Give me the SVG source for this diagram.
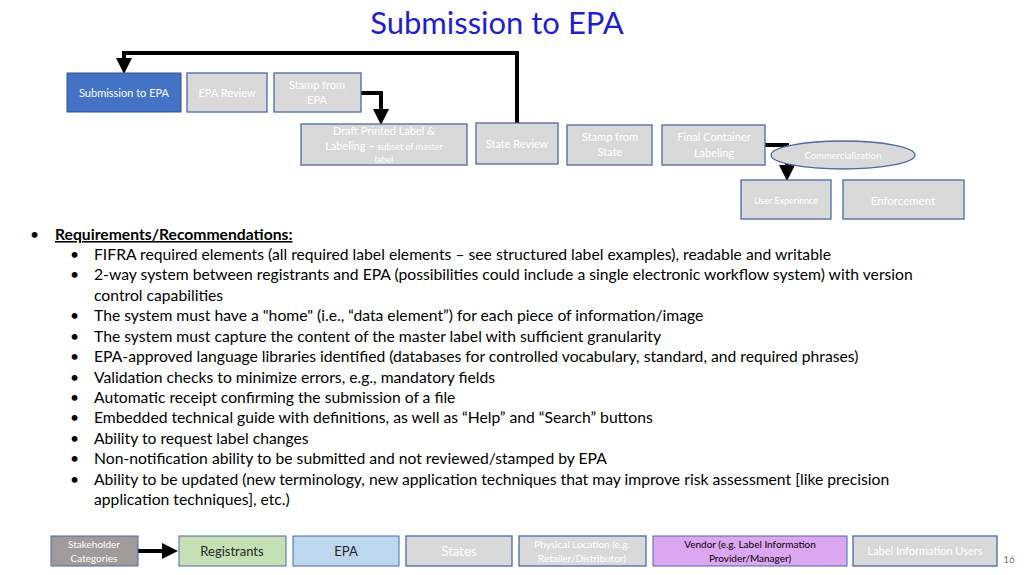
<svg xmlns="http://www.w3.org/2000/svg" width="1024" height="575" viewBox="0 0 1024 575">
<style>
text{font-family:Lato,"Open Sans",sans-serif}
.g{fill:#d9d9d9;stroke:#4a6aa0;stroke-width:1.3}
.w{fill:#fff;text-anchor:middle}
.c{stroke:#000;stroke-width:4;fill:none}
.b{font-size:15.7px;fill:#000}
.bt{font-size:13px;fill:#262626;text-anchor:middle}
</style>
<defs><marker id="a" markerWidth="4" markerHeight="4" refX="2" refY="2" orient="auto" markerUnits="strokeWidth"><path d="M0,0L4,2L0,4z" fill="#000"/></marker></defs>
<rect width="1024" height="575" fill="#fff"/>
<text x="497" y="34" font-size="31" fill="#1f1fd0" text-anchor="middle">Submission to EPA</text>
<g id="connectors">
<path class="c" d="M517,123V53H124V66" marker-end="url(#a)"/>
<path class="c" d="M361,93H381V117" marker-end="url(#a)"/>
<path class="c" d="M765,145H787V173" marker-end="url(#a)"/>
<path class="c" d="M138,551H170" marker-end="url(#a)"/>
</g>
<g id="n1"><rect x="67" y="73" width="114" height="39" fill="#4472c4" stroke="#2f528f"/><text class="w" x="124" y="97" font-size="11">Submission to EPA</text></g>
<g id="n2"><rect class="g" x="187" y="73" width="80" height="39"/><text class="w" x="227" y="97" font-size="11">EPA Review</text></g>
<g id="n3"><rect class="g" x="274" y="73" width="87" height="39"/><text class="w" x="317" y="89" font-size="11">Stamp from</text><text class="w" x="317" y="104" font-size="11">EPA</text></g>
<g id="n4"><rect class="g" x="301" y="124" width="166" height="41"/><text class="w" x="384" y="135" font-size="11">Draft Printed Label &amp;</text><text class="w" x="384" y="150" font-size="11">Labeling – <tspan font-size="9">subset of master</tspan></text><text class="w" x="384" y="163" font-size="9">label</text></g>
<g id="n5"><rect class="g" x="476" y="123" width="82" height="41"/><text class="w" x="517" y="148" font-size="11">State Review</text></g>
<g id="n6"><rect class="g" x="567" y="125" width="85" height="40"/><text class="w" x="610" y="141" font-size="11">Stamp from</text><text class="w" x="610" y="156" font-size="11">State</text></g>
<g id="n7"><rect class="g" x="662" y="125" width="103" height="40"/><text class="w" x="714" y="141" font-size="11">Final Container</text><text class="w" x="714" y="157" font-size="11">Labeling</text></g>
<g id="n8"><ellipse class="g" cx="843" cy="155" rx="72" ry="14"/><text class="w" x="843" y="159" font-size="9.5">Commercialization</text></g>
<g id="n9"><rect class="g" x="741" y="180" width="90" height="39"/><text class="w" x="786" y="204" font-size="9">User Experience</text></g>
<g id="n10"><rect class="g" x="843" y="180" width="121" height="39"/><text class="w" x="903" y="205" font-size="11.5">Enforcement</text></g>
<g id="bullets" class="b">
<text x="30" y="240">•</text><text x="55" y="240" text-decoration="underline" font-weight="bold">Requirements/Recommendations: </text>
<text x="70" y="260">•</text><text x="94" y="260">FIFRA required elements (all required label elements – see structured label examples), readable and writable</text>
<text x="70" y="280">•</text><text x="94" y="280">2-way  system between registrants and EPA (possibilities could include a single electronic workflow system) with version</text>
<text x="94" y="301">control capabilities</text>
<text x="70" y="321">•</text><text x="94" y="321">The system must have a "home" (i.e., “data element”) for each piece of information/image</text>
<text x="70" y="342">•</text><text x="94" y="342">The system must capture the content of the master label with sufficient granularity</text>
<text x="70" y="362">•</text><text x="94" y="362">EPA-approved language libraries identified (databases for controlled vocabulary, standard, and required phrases)</text>
<text x="70" y="383">•</text><text x="94" y="383">Validation checks to minimize errors, e.g., mandatory fields</text>
<text x="70" y="403">•</text><text x="94" y="403">Automatic receipt confirming the submission of a file</text>
<text x="70" y="423">•</text><text x="94" y="423">Embedded technical guide with definitions, as well as “Help” and “Search” buttons</text>
<text x="70" y="444">•</text><text x="94" y="444">Ability to request label changes</text>
<text x="70" y="464">•</text><text x="94" y="464">Non-notification ability to be submitted and not reviewed/stamped by EPA</text>
<text x="70" y="485">•</text><text x="94" y="485">Ability to be updated (new terminology, new application techniques that may improve risk assessment [like precision</text>
<text x="94" y="505">application techniques], etc.)</text>
</g>
<g id="s1"><rect x="51" y="536" width="87" height="30" fill="#a09a9a" stroke="#4a6aa0"/><text class="w" x="94" y="548" font-size="10">Stakeholder</text><text class="w" x="94" y="562" font-size="10">Categories</text></g>
<g id="s2"><rect x="179" y="536" width="107" height="30" fill="#c5e0b4" stroke="#4a6aa0"/><text class="bt" x="232" y="556">Registrants</text></g>
<g id="s3"><rect x="293" y="536" width="106" height="30" fill="#bdd7ee" stroke="#4a6aa0"/><text class="bt" x="346" y="556">EPA</text></g>
<g id="s4"><rect class="g" x="406" y="536" width="106" height="30"/><text class="w" x="459" y="556" font-size="13">States</text></g>
<g id="s5"><rect class="g" x="519" y="536" width="127" height="30"/><text class="w" x="582" y="548" font-size="10">Physical Location (e.g.</text><text class="w" x="582" y="562" font-size="10">Retailer/Distributor)</text></g>
<g id="s6"><rect x="653" y="536" width="194" height="30" fill="#dda6f0" stroke="#4a6aa0"/><text x="750" y="548" font-size="10" text-anchor="middle">Vendor (e.g. Label Information</text><text x="750" y="562" font-size="10" text-anchor="middle">Provider/Manager)</text></g>
<g id="s7"><rect class="g" x="853" y="536" width="144" height="30"/><text class="w" x="925" y="555" font-size="11">Label Information Users</text></g>
<text x="1009" y="563" font-size="10" fill="#777" text-anchor="middle">16</text>
</svg>
